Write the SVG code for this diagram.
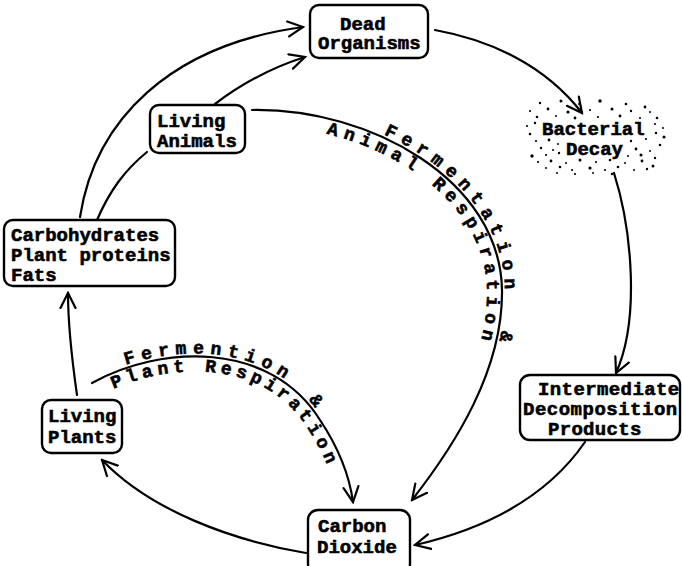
<svg xmlns="http://www.w3.org/2000/svg" width="682" height="566" viewBox="0 0 682 566">
<style>
.box{fill:#fff;stroke:#000;stroke-width:2.4}
.t{font-family:"Liberation Mono","DejaVu Sans Mono",monospace;font-weight:bold;font-size:19px;fill:#000;stroke:#000;stroke-width:0.6}
.arc{font-family:"Liberation Mono","DejaVu Sans Mono",monospace;font-weight:bold;font-size:18px;fill:#000;stroke:#000;stroke-width:0.6}
.ln{fill:none;stroke:#000;stroke-width:2.2;stroke-linecap:round}
.dot{fill:#000}
</style>
<defs>
<marker id="ah" viewBox="0 0 18 18" refX="16" refY="9" markerWidth="18" markerHeight="18" markerUnits="userSpaceOnUse" orient="auto">
<path d="M1,1.5 L16,9 L1,16.5" fill="none" stroke="#000" stroke-width="2.2" stroke-linecap="round" stroke-linejoin="miter"/>
</marker>
<path id="animalArc" d="M252,110 C370,108 500,180 502,290 C503,370 455,445 412,500"/>
<path id="plantArc" d="M92,383 C160,345 270,340 320,420 C340,450 350,480 353,502"/>
</defs>
<rect width="682" height="566" fill="#fff"/>

<g id="connectors">
<path class="ln" d="M80,217 C95,120 170,45 303,27" marker-end="url(#ah)"/>
<path class="ln" d="M97,220 C110,190 125,170 147,152"/>
<path class="ln" d="M215,104 C240,85 270,68 305,57" marker-end="url(#ah)"/>
<path class="ln" d="M435,30 C490,40 545,65 582,113" marker-end="url(#ah)"/>
<path class="ln" d="M614,173 C632,230 640,320 616,373" marker-end="url(#ah)"/>
<path class="ln" d="M585,442 C545,500 480,530 415,545" marker-end="url(#ah)"/>
<path class="ln" d="M306,553 C230,540 150,510 102,460" marker-end="url(#ah)"/>
<path class="ln" d="M77,395 C72,360 68,325 68,293" marker-end="url(#ah)"/>
<use href="#animalArc" class="ln" marker-end="url(#ah)"/>
<use href="#plantArc" class="ln" marker-end="url(#ah)"/>
<text class="arc" letter-spacing="6.8"><textPath href="#animalArc" startOffset="134"><tspan dy="-3">Fermentation <tspan dx="16">&amp;</tspan></tspan></textPath></text>
<text class="arc" letter-spacing="7.0"><textPath href="#animalArc" startOffset="79"><tspan dy="15">Animal Respiration</tspan></textPath></text>
<text class="arc" letter-spacing="6.0"><textPath href="#plantArc" startOffset="38"><tspan dy="-3">Fermention <tspan dx="8">&amp;</tspan></tspan></textPath></text>
<text class="arc" letter-spacing="6.0"><textPath href="#plantArc" startOffset="18"><tspan dy="15">Plant Respiration</tspan></textPath></text>
</g>

<g id="dead-organisms">
<rect class="box" x="310" y="5" width="118" height="53" rx="9"/>
<text class="t" x="340" y="30">Dead</text>
<text class="t" x="318" y="49">Organisms</text>
</g>

<g id="bacterial-decay">
<g class="dot">
<circle cx="540" cy="103" r="1.2"/><circle cx="561" cy="101" r="1.5"/><circle cx="579" cy="104" r="1.0"/><circle cx="600" cy="101" r="1.7"/><circle cx="626" cy="104" r="1.3"/><circle cx="645" cy="107" r="1.4"/>
<circle cx="530" cy="111" r="1.1"/><circle cx="548" cy="109" r="1.4"/><circle cx="568" cy="112" r="1.6"/><circle cx="590" cy="110" r="1.1"/><circle cx="612" cy="109" r="1.5"/><circle cx="631" cy="111" r="1.2"/><circle cx="650" cy="112" r="1.0"/><circle cx="657" cy="118" r="1.3"/>
<circle cx="537" cy="117" r="1.3"/><circle cx="556" cy="116" r="1.0"/><circle cx="575" cy="118" r="1.4"/><circle cx="598" cy="117" r="1.1"/><circle cx="620" cy="116" r="1.4"/><circle cx="640" cy="118" r="1.1"/>
<circle cx="527" cy="126" r="1.1"/><circle cx="535" cy="123" r="1.2"/><circle cx="655" cy="124" r="1.1"/><circle cx="663" cy="128" r="1.0"/>
<circle cx="530" cy="134" r="1.3"/><circle cx="656" cy="133" r="1.2"/><circle cx="664" cy="137" r="1.5"/>
<circle cx="536" cy="141" r="1.1"/><circle cx="549" cy="140" r="1.4"/><circle cx="558" cy="144" r="1.0"/><circle cx="631" cy="141" r="1.2"/><circle cx="646" cy="139" r="1.1"/><circle cx="660" cy="145" r="1.3"/>
<circle cx="541" cy="148" r="1.2"/><circle cx="553" cy="150" r="1.0"/><circle cx="636" cy="149" r="1.4"/><circle cx="650" cy="151" r="1.0"/>
<circle cx="532" cy="156" r="1.7"/><circle cx="546" cy="155" r="1.1"/><circle cx="559" cy="153" r="1.2"/><circle cx="628" cy="156" r="1.0"/><circle cx="641" cy="155" r="1.5"/><circle cx="655" cy="158" r="1.2"/>
<circle cx="538" cy="162" r="1.1"/><circle cx="551" cy="161" r="1.4"/><circle cx="566" cy="163" r="1.0"/><circle cx="580" cy="160" r="1.5"/><circle cx="596" cy="162" r="1.1"/><circle cx="610" cy="160" r="1.3"/><circle cx="625" cy="163" r="1.0"/><circle cx="642" cy="161" r="1.4"/><circle cx="653" cy="166" r="1.5"/>
<circle cx="546" cy="168" r="1.0"/><circle cx="560" cy="167" r="1.3"/><circle cx="572" cy="170" r="1.1"/><circle cx="590" cy="168" r="1.6"/><circle cx="605" cy="170" r="1.1"/><circle cx="618" cy="167" r="1.3"/><circle cx="634" cy="170" r="1.0"/><circle cx="647" cy="169" r="1.2"/>
<circle cx="557" cy="173" r="1.0"/><circle cx="575" cy="174" r="1.1"/><circle cx="593" cy="173" r="1.0"/><circle cx="612" cy="174" r="1.2"/>
</g>
<text class="t" x="542" y="135">Bacterial</text>
<text class="t" x="566" y="155">Decay</text>
</g>

<g id="living-animals">
<rect class="box" x="150" y="105" width="95" height="48" rx="9"/>
<text class="t" x="157" y="127">Living</text>
<text class="t" x="157" y="147">Animals</text>
</g>

<g id="carbohydrates">
<rect class="box" x="4" y="220" width="171" height="66" rx="9"/>
<text class="t" x="11" y="241">Carbohydrates</text>
<text class="t" x="11" y="261">Plant proteins</text>
<text class="t" x="11" y="281">Fats</text>
</g>

<g id="living-plants">
<rect class="box" x="42" y="400" width="80" height="53" rx="9"/>
<text class="t" x="48" y="422">Living</text>
<text class="t" x="48" y="443">Plants</text>
</g>

<g id="intermediate">
<rect class="box" x="520" y="375" width="160" height="65" rx="10"/>
<text class="t" x="538" y="395" letter-spacing="0.4">Intermediate</text>
<text class="t" x="523" y="415" letter-spacing="0.5">Decomposition</text>
<text class="t" x="548" y="435" letter-spacing="0.3">Products</text>
</g>

<g id="carbon-dioxide">
<rect class="box" x="308" y="510" width="102" height="64" rx="10"/>
<text class="t" x="318" y="532">Carbon</text>
<text class="t" x="317" y="553">Dioxide</text>
</g>
</svg>
